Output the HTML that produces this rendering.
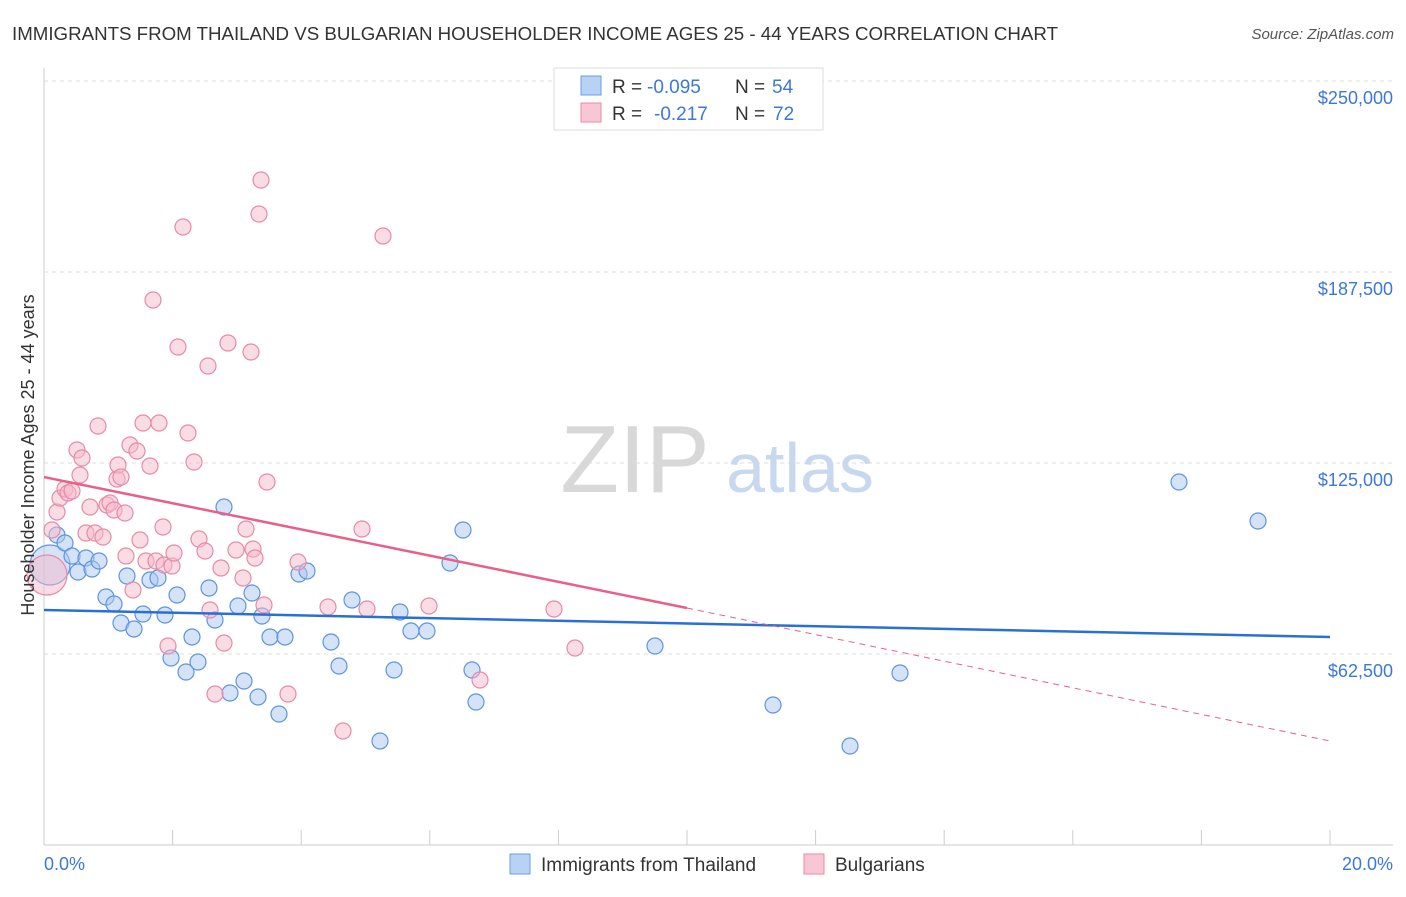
<!DOCTYPE html>
<html><head><meta charset="utf-8"><style>
body{margin:0;background:#fff;font-family:"Liberation Sans",sans-serif;}
svg text{font-family:"Liberation Sans",sans-serif;}
</style></head><body>
<svg id="chart" width="1406" height="892" viewBox="0 0 1406 892">
<text x="12" y="40" font-size="18" fill="#333" textLength="1046" lengthAdjust="spacingAndGlyphs">IMMIGRANTS FROM THAILAND VS BULGARIAN HOUSEHOLDER INCOME AGES 25 - 44 YEARS CORRELATION CHART</text>
<text x="1394" y="39" font-size="15" fill="#555" text-anchor="end" font-style="italic">Source: ZipAtlas.com</text>
<g id="grid"></g>
<text x="635" y="492" font-size="96" fill="#d8d8d8" font-family="Liberation Serif" text-anchor="middle">ZIP</text>
<text x="800" y="492" font-size="70" fill="#c8d8ee" text-anchor="middle">atlas</text>
<g id="marks"></g>
<text x="34" y="455" font-size="18" fill="#333" text-anchor="middle" transform="rotate(-90 34 455)">Householder Income Ages 25 - 44 years</text>
<text x="44" y="870" font-size="18" fill="#3b78d8">0.0%</text>
<text x="1393" y="870" font-size="18" fill="#3b78d8" text-anchor="end">20.0%</text>
<g>
<rect x="554" y="68" width="269" height="62" fill="#fff" stroke="#ddd"/>
<rect x="581" y="76" width="20" height="19" fill="#b7d2f4" stroke="#6a9fe0"/>
<rect x="581" y="103" width="20" height="19" fill="#f8c6d5" stroke="#e88aa8"/>
<text x="612" y="93" font-size="19" fill="#333">R =</text>
<text x="647" y="93" font-size="19" fill="#3b78d8">-0.095</text>
<text x="735" y="93" font-size="19" fill="#333">N =</text>
<text x="772" y="93" font-size="19" fill="#3b78d8">54</text>
<text x="612" y="120" font-size="19" fill="#333">R =</text>
<text x="654" y="120" font-size="19" fill="#3b78d8">-0.217</text>
<text x="735" y="120" font-size="19" fill="#333">N =</text>
<text x="773" y="120" font-size="19" fill="#3b78d8">72</text>
</g>
<g><rect x="510" y="854" width="20" height="20" fill="#b7d2f4" stroke="#6a9fe0"/><text x="541" y="871" font-size="19" fill="#333">Immigrants from Thailand</text></g>
<g><rect x="804" y="854" width="20" height="20" fill="#f8c6d5" stroke="#e88aa8"/><text x="835" y="871" font-size="19" fill="#333">Bulgarians</text></g>
</svg>
<script>
const yTicks=[62500,125000,187500,250000];
const yTickLabels=["$62,500","$125,000","$187,500","$250,000"];
const xTicks=[0,2,4,6,8,10,12,14,16,18,20];
const bluePts=[[50,565],[57,535],[65,543],[72,556],[78,572],[86,558],[92,569],[99,561],[106,597],[114,604],[121,623],[127,576],[134,629],[143,614],[150,580],[158,578],[165,615],[171,658],[177,595],[186,672],[192,637],[198,662],[209,588],[215,620],[224,507],[230,693],[238,606],[244,681],[252,593],[258,697],[262,616],[270,637],[279,714],[285,637],[299,574],[307,571],[331,642],[339,666],[352,600],[380,741],[394,670],[400,612],[411,631],[427,631],[450,563],[463,530],[472,670],[476,702],[655,646],[773,705],[850,746],[900,673],[1179,482],[1258,521]].map(p=>[(p[0]-44)/1286*20,(845-p[1])/191*62500]);
const pinkPts=[[47,575],[52,530],[57,512],[60,498],[65,489],[68,493],[72,491],[77,450],[80,475],[82,458],[86,533],[90,507],[95,533],[98,426],[103,537],[107,505],[110,503],[114,510],[117,479],[118,465],[121,477],[125,513],[126,556],[130,445],[133,590],[137,451],[140,540],[143,423],[146,561],[150,466],[153,300],[156,561],[159,423],[163,527],[164,565],[168,646],[172,566],[174,553],[178,347],[183,227],[188,433],[194,462],[199,539],[205,551],[208,366],[210,610],[215,694],[221,568],[224,643],[228,343],[236,550],[243,578],[246,529],[251,352],[253,549],[255,558],[259,214],[261,180],[264,605],[267,482],[288,694],[298,562],[328,607],[343,731],[362,529],[367,609],[383,236],[429,606],[480,680],[554,609],[575,648]].map(p=>[(p[0]-44)/1286*20,(845-p[1])/191*62500]);
const blueTrend=[[0,76900],[20,68060]];
const pinkTrend=[[0,120400],[10,77550],[20,34030]];
const X=v=>44+v/20*1286, Y=v=>845-v/62500*191;
const NS='http://www.w3.org/2000/svg';
function mk(t,a,parent){const e=document.createElementNS(NS,t);for(const k in a)e.setAttribute(k,a[k]);parent.appendChild(e);return e;}
const grid=document.getElementById('grid'), marks=document.getElementById('marks');
mk('line',{x1:44,y1:68,x2:44,y2:845,stroke:'#ccc'},grid);
mk('line',{x1:44,y1:845,x2:1393,y2:845,stroke:'#ccc'},grid);
yTicks.forEach((v,i)=>{
 const l=mk('line',{x1:44,y1:Y(v),x2:1393,y2:Y(v),stroke:'#ddd','stroke-dasharray':'4,4'},grid);
 
 
 const t=mk('text',{x:1393,y:Y(v)+23,'font-size':18,fill:'#3b78d8','text-anchor':'end'},grid);
 t.textContent=yTickLabels[i];
 
 
});
xTicks.forEach(v=>{
 const l=mk('line',{x1:X(v),y1:830,x2:X(v),y2:845,stroke:'#ccc'},grid);
 
 
});
function dots(pts,fill,stroke,name){pts.forEach((p,i)=>{
 const c=mk('circle',{cx:X(p[0]),cy:Y(p[1]),r:i===0?20:8,fill:fill,'fill-opacity':0.5,stroke:stroke,'stroke-width':1.2},marks);
 
 
});}
dots(bluePts,'#a9c8f0','#5e95de','thailand-point');
dots(pinkPts,'#f6b9cc','#e88aa8','bulgarian-point');
let bl=mk('line',{x1:X(blueTrend[0][0]),y1:Y(blueTrend[0][1]),x2:X(blueTrend[1][0]),y2:Y(blueTrend[1][1]),stroke:'#2a6fd6','stroke-width':2.5},marks);


let pl=mk('line',{x1:X(pinkTrend[0][0]),y1:Y(pinkTrend[0][1]),x2:X(pinkTrend[1][0]),y2:Y(pinkTrend[1][1]),stroke:'#e8608a','stroke-width':2.5},marks);


let pd=mk('line',{x1:X(pinkTrend[1][0]),y1:Y(pinkTrend[1][1]),x2:X(pinkTrend[2][0]),y2:Y(pinkTrend[2][1]),stroke:'#e8608a','stroke-width':1,'stroke-dasharray':'6,5'},marks);


</script>
</body></html>
